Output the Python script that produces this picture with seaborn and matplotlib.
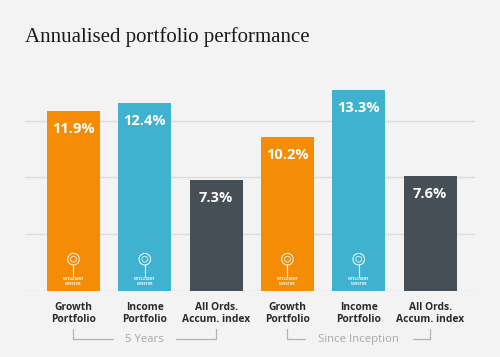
import matplotlib
matplotlib.use("Agg")
import matplotlib.pyplot as plt
import seaborn as sns
import pandas as pd

# ---- data ----
periods = ["5 Years", "5 Years", "5 Years", "Since Inception", "Since Inception", "Since Inception"]
series = ["Growth Portfolio", "Income Portfolio", "All Ords. Accum. index",
          "Growth Portfolio", "Income Portfolio", "All Ords. Accum. index"]
tick_labels = ["Growth\nPortfolio", "Income\nPortfolio", "All Ords.\nAccum. index",
               "Growth\nPortfolio", "Income\nPortfolio", "All Ords.\nAccum. index"]
values = [11.9, 12.4, 7.3, 10.2, 13.3, 7.6]
group_names = ["5 Years", "Since Inception"]

colors = {"Growth Portfolio": "#f48c06", "Income Portfolio": "#3eb2cf",
          "All Ords. Accum. index": "#474f56"}
BG = "#f3f3f3"

df = pd.DataFrame({"key": [f"{s} ({p})" for s, p in zip(series, periods)],
                   "series": series, "period": periods, "value": values})

sns.set_theme(style="white")
plt.rcParams["font.family"] = ["Open Sans", "DejaVu Sans"]

fig = plt.figure(figsize=(5.0, 3.57), dpi=100, facecolor=BG)
ax = fig.add_axes([0.05, 0.185, 0.90, 0.636], facecolor=BG)

sns.barplot(data=df, x="key", y="value", hue="series", palette=colors,
            dodge=False, width=0.745, legend=False, ax=ax, saturation=1,
            edgecolor="none", linewidth=0, zorder=3)

ax.set_xlim(-0.68, 5.63)
ax.set_ylim(0, 15)
ax.set_yticks([0, 3.75, 7.5, 11.25])
ax.yaxis.grid(True, color="#dcdcdc", linewidth=1, zorder=0)
ax.set_axisbelow(True)
ax.tick_params(axis="y", left=False, labelleft=False)
ax.tick_params(axis="x", bottom=False, pad=2)
for s in ax.spines.values():
    s.set_visible(False)
ax.set_xlabel("")
ax.set_ylabel("")
ax.set_xticks(range(len(tick_labels)))
ax.set_xticklabels(tick_labels, fontsize=7.4, fontweight="bold",
                   color="#2a2a2a", linespacing=1.15)

# bars sorted by position (seaborn groups patches by hue)
bars = sorted([p for p in ax.patches if p.get_height() > 0], key=lambda p: p.get_x())
for p in bars:
    v = p.get_height()
    cx = p.get_x() + p.get_width() / 2
    ax.annotate(f"{v:.1f}%", (cx, v), xytext=(0, -18),
                textcoords="offset pixels",
                ha="center", va="center", color="white", fontsize=10.5,
                fontweight="bold", zorder=5)

# logo on portfolio bars
for p, s in zip(bars, series):
    if s == "All Ords. Accum. index":
        continue
    cx = p.get_x() + p.get_width() / 2
    ax.plot([cx, cx], [0.95, 1.75], color="white", lw=0.8, zorder=5,
            solid_capstyle="butt")
    ax.scatter([cx], [2.1], s=70, facecolor="none", edgecolor="white",
               linewidth=0.7, zorder=5)
    ax.scatter([cx], [2.1], s=18, facecolor="none", edgecolor="white",
               linewidth=0.5, zorder=5)
    ax.text(cx, 0.62, "INTELLIGENT\nINVESTOR", ha="center", va="center",
            fontsize=2.4, color="white", fontweight="bold", linespacing=1.1,
            zorder=5)

# group brackets
trans = ax.get_xaxis_transform()
gray = "#b4b4b4"
halves = [0.44, 0.76]
for gi, g in enumerate(group_names):
    idx = [i for i, pp in enumerate(periods) if pp == g]
    x0, x1 = min(idx), max(idx)
    xc = (x0 + x1) / 2
    ax.text(xc, -0.212, g, transform=trans, ha="center", va="center",
            fontsize=8.2, color="#a8a8a8")
    half = halves[gi]
    ax.plot([x0, x0, xc - half], [-0.167, -0.21, -0.21], transform=trans,
            color=gray, lw=0.9, clip_on=False)
    ax.plot([xc + half, x1, x1], [-0.21, -0.21, -0.167], transform=trans,
            color=gray, lw=0.9, clip_on=False)

fig.text(0.05, 0.896, "Annualised portfolio performance", ha="left",
         va="center", fontsize=15, color="#1a1a1a",
         family=["Liberation Serif", "DejaVu Serif"])

fig.savefig("out.png", dpi=100, facecolor=BG)
